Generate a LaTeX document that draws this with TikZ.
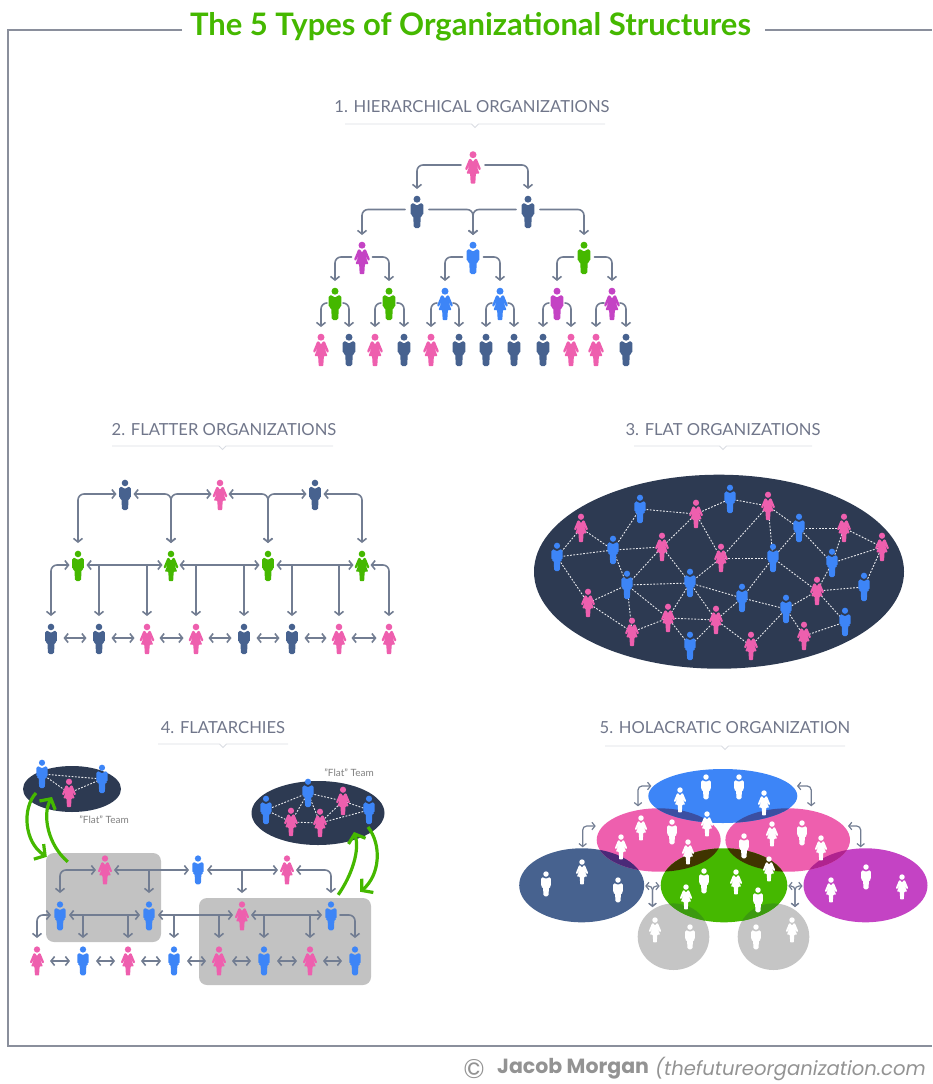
\documentclass[tikz,border=0pt]{standalone}
\usepackage{fontspec}
\setmainfont{Lato}
\newfontfamily\footfont{Poppins}
\usetikzlibrary{arrows.meta,calc,shapes.geometric}
\pgfdeclarelayer{bgl}
\pgfsetlayers{bgl,main}
\definecolor{pk}{HTML}{EE5FAE}
\definecolor{nv}{HTML}{47628F}
\definecolor{pr}{HTML}{C443C4}
\definecolor{bl}{HTML}{3D85F7}
\definecolor{gn}{HTML}{45B800}
\definecolor{ln}{HTML}{727D92}
\definecolor{dk}{HTML}{2D3A52}
\definecolor{gy}{HTML}{C2C2C2}
\definecolor{fr}{HTML}{8A8F9C}
\definecolor{ttl}{HTML}{70768A}
\definecolor{ul}{HTML}{DADDE3}
\definecolor{ovBP}{HTML}{3B4FA2}
\definecolor{ovPG}{HTML}{403400}
\definecolor{ovNP}{HTML}{4A2A78}
\definecolor{ovPU}{HTML}{B0238F}
\definecolor{ovGG}{HTML}{3C9A10}
\def\pW{24}\def\pDy{2}\def\ps{1}
\tikzset{
  pb/.style={minimum width=\pW pt,minimum height={46pt-2*\pDy pt},inner sep=0pt,outer sep=0pt},
  conn/.style={draw=ln,line width=1.6pt,rounded corners=6pt,line cap=round,>={Straight Barb[length=3.6pt,width=9pt]}},
  short/.style={shorten >=4pt,shorten <=4pt,rounded corners=0pt},
  dot/.style={draw=white!85!ln,line width=.9pt,dash pattern=on 1.8pt off 1.5pt},
  gr/.style={draw=gn,line width=3.2pt,-{Straight Barb[length=7.5pt,width=18pt]}},
  ell/.style={ellipse,inner sep=0pt,outer sep=0pt},
  sectitle/.style={font=\fontsize{16.6}{19}\selectfont,text=ttl,inner sep=0pt},
  teamlabel/.style={font=\fontsize{10}{12}\selectfont,text=gray,inner sep=0pt},
  underl/.style={draw=ul,line width=.8pt},
  frameln/.style={draw=fr,line width=1.4pt},
}
\newcommand{\Man}[4]{%
  \node[pb] (#1) at (#3,{#4-\pDy}) {};
  \fill[#2,shift={(#3,#4)},scale=\ps] (0,-12.8) circle[radius=3.5];
  \fill[#2,shift={(#3,#4)},scale=\ps,rounded corners=1.6pt]
    (-6.3,3.5)--(-6.3,-8.6)--(-2,-8.6)--(0,-5.5)--(2,-8.6)--(6.3,-8.6)--(6.3,3.5)--(3.8,3.5)--(3.2,16)--(-3.2,16)--(-3.8,3.5)--cycle;
}
\newcommand{\Wom}[4]{%
  \node[pb] (#1) at (#3,{#4-\pDy}) {};
  \fill[#2,shift={(#3,#4)},scale=\ps] (0,-12.8) circle[radius=3.5];
  \fill[#2,shift={(#3,#4)},scale=\ps,rounded corners=.7pt]
    (-2,-8.6)--(0,-5.5)--(2,-8.6)--(3.8,-8.6)--(8,1.5)--(6.3,2.8)--(3,-3)--(6.5,6)--(2.9,6)--(2.3,16)--(-2.3,16)--(-2.9,6)--(-6.5,6)--(-3,-3)--(-6.3,2.8)--(-8,1.5)--(-3.8,-8.6)--cycle;
}
\newcommand{\Under}[3]{% x1 x2 y with notch at the centre
  \draw[underl] (#1,#3) -- ({(#1+#2)/2-3.5},#3) -- ({(#1+#2)/2},#3+3.5) -- ({(#1+#2)/2+3.5},#3) -- (#2,#3);
}
\newcommand{\Over}[3]{% clip path, fill path, colour
  \begin{scope}\clip #1; \fill[#3] #2;\end{scope}
}
\begin{document}
\begin{tikzpicture}[x=1pt,y=-1pt]
\useasboundingbox (0,0) rectangle (932,1084);
% ---- frame and title
\node[inner sep=0pt,text=gn,font=\fontsize{31}{34}\selectfont\bfseries] (title) at (470.5,27) {The 5 Types of Organizational Structures};
\draw[frameln] (182,30) -- (8,30) -- (8,1046) -- (932,1046);
\draw[frameln] (765,30) -- (932,30);
\node[inner sep=0pt,text=gray!85,font=\footfont\fontsize{27}{30}\selectfont] (copyr) at (474,1069) {©};
\node[inner sep=0pt,anchor=west,text=gray!85,font=\footfont\fontsize{20.5}{24}\selectfont\bfseries] (author) at (497,1069) {Jacob Morgan};
\node[inner sep=0pt,anchor=west,text=gray!85,font=\footfont\fontsize{19.6}{24}\selectfont\itshape] (site) at (655,1069) {(thefutureorganization.com};
% ---- section titles
\node[sectitle] (t1) at (472,107) {1. HIERARCHICAL ORGANIZATIONS};
\Under{345}{605}{124}
\node[sectitle] (t2) at (224,430) {2. FLATTER ORGANIZATIONS};
\Under{112}{333}{446}
\node[sectitle] (t3) at (723,430) {3. FLAT ORGANIZATIONS};
\Under{634}{812}{446}
\node[sectitle] (t4) at (223,728) {4. FLATARCHIES};
\Under{158}{288}{744}
\node[sectitle] (t5) at (725,728) {5. HOLACRATIC ORGANIZATION};
\Under{605}{845}{746}
% ---- 1 hierarchical
\def\pW{24}\def\pDy{2.5}\def\ps{1}
\Wom{a0}{pk}{473}{167.5}
\Man{b0}{nv}{417}{212}
\Man{b1}{nv}{528}{212}
\def\pW{21}\def\pDy{1}
\Wom{c0}{pr}{362}{258}
\Man{c1}{bl}{473}{258}
\Man{c2}{gn}{584}{258}
\def\pW{16}
\Man{d0}{gn}{335}{304}
\Man{d1}{gn}{389}{304}
\Wom{d2}{bl}{445}{304}
\Wom{d3}{bl}{500}{304}
\Man{d4}{pr}{557}{304}
\Wom{d5}{pr}{612}{304}
\Wom{e0}{pk}{321}{350}
\Man{e1}{nv}{349}{350}
\Wom{e2}{pk}{375}{350}
\Man{e3}{nv}{404}{350}
\Wom{e4}{pk}{431}{350}
\Man{e5}{nv}{459}{350}
\Man{e6}{nv}{486}{350}
\Man{e7}{nv}{514}{350}
\Man{e8}{nv}{543}{350}
\Wom{e9}{pk}{571}{350}
\Wom{e10}{pk}{596}{350}
\Man{e11}{nv}{626}{350}
\foreach \p/\l/\r in {a0/b0/b1,b0/c0/c1,b1/c1/c2,c0/d0/d1,c1/d2/d3,c2/d4/d5,d0/e0/e1,d1/e2/e3,d2/e4/e5,d3/e6/e7,d4/e8/e9,d5/e10/e11}{
  \draw[conn,->] (\p.west) -| (\l.north);
  \draw[conn,->] (\p.east) -| (\r.north);
}
% ---- 2 flatter
\def\pW{17}\def\pDy{1}\def\ps{.94}
\Man{f0}{nv}{125}{495}
\Wom{f1}{pk}{220}{495}
\Man{f2}{nv}{315}{495}
\Man{g0}{gn}{78}{566}
\Wom{g1}{gn}{171}{566}
\Man{g2}{gn}{268}{566}
\Wom{g3}{gn}{362}{566}
\Man{h0}{nv}{51}{639}
\Man{h1}{nv}{99}{639}
\Wom{h2}{pk}{147}{639}
\Wom{h3}{pk}{196}{639}
\Man{h4}{nv}{244}{639}
\Man{h5}{nv}{292}{639}
\Wom{h6}{pk}{339}{639}
\Wom{h7}{pk}{389}{639}
\draw[conn,<->] (f0.west) -| (g0.north);
\draw[conn,<->] (f0.east) -| (g1.north);
\draw[conn,<->] (f1.west) -| (g1.north);
\draw[conn,<->] (f1.east) -| (g2.north);
\draw[conn,<->] (f2.west) -| (g2.north);
\draw[conn,<->] (f2.east) -| (g3.north);
\draw[conn,<->] (g0.west) -| (h0.north);
\draw[conn,<->] (g0.east) -- (g1.west);
\draw[conn,<->] (g1.east) -- (g2.west);
\draw[conn,<->] (g2.east) -- (g3.west);
\draw[conn,<->] (g3.east) -| (h7.north);
\foreach \s/\c in {g0/h1,g0/h2,g1/h3,g1/h4,g2/h5,g2/h6}{
  \draw[conn,->] (\c.north |- \s.east) -- (\c.north);
}
\foreach \a/\b in {h0/h1,h1/h2,h2/h3,h3/h4,h4/h5,h5/h6,h6/h7}{
  \draw[conn,<->,short] (\a.east) -- (\b.west);
}
% ---- 3 flat
\begin{pgfonlayer}{bgl}
\node[ell,fill=dk,minimum width=370pt,minimum height=194pt] (flatell) at (719,571.7) {};
\end{pgfonlayer}
\def\pW{10}\def\pDy{0}\def\ps{.88}
\Man{sa}{bl}{557}{557}
\Wom{sb}{pk}{581}{528}
\Man{sc}{bl}{640}{509}
\Wom{sd}{pk}{696}{514}
\Man{se}{bl}{730}{499}
\Wom{sf}{pk}{768}{506}
\Man{sg}{bl}{799}{528}
\Wom{sh}{pk}{844}{528}
\Wom{si}{pk}{882}{547}
\Man{sj}{bl}{613}{550}
\Wom{sk}{pk}{662}{547}
\Wom{sl}{pk}{721}{558}
\Man{sm}{bl}{773}{558}
\Man{sn}{bl}{832}{563}
\Man{so}{bl}{627}{585}
\Man{sp}{bl}{690}{583}
\Man{sq}{bl}{742}{598}
\Wom{sr}{pk}{817}{591}
\Man{ss}{bl}{864}{587}
\Wom{st}{pk}{588}{603}
\Wom{su}{pk}{668}{618}
\Wom{sv}{pk}{716}{620}
\Man{sw}{bl}{786}{609}
\Man{sx}{bl}{845}{622}
\Wom{sy}{pk}{632}{632}
\Man{sz}{bl}{690}{646}
\Wom{sA}{pk}{751}{646}
\Wom{sB}{pk}{804}{636}
\begin{pgfonlayer}{bgl}
\foreach \a/\b in {sa/sb,sa/sj,sa/st,sb/sj,sj/sc,sj/sk,sj/so,sc/sd,sd/se,sd/sk,sd/sl,se/sf,sf/sl,sf/sg,sf/sm,sg/sh,sg/sn,sg/sm,sh/si,sh/sn,sn/si,si/ss,sn/sr,sm/sl,sm/sr,sm/sq,sk/so,sk/sp,sl/sp,so/sp,so/st,so/su,so/sy,st/sy,sy/su,su/sp,su/sv,su/sz,sp/sv,sp/sq,sq/sv,sz/sv,sv/sA,sA/sw,sw/sq,sw/sB,sw/sr,sr/ss,sr/sx,sx/sB}{
  \draw[dot] (\a.center) -- (\b.center);
}
\end{pgfonlayer}
% ---- 4 flatarchies
\begin{pgfonlayer}{bgl}
\node[ell,fill=dk,minimum width=98pt,minimum height=46pt] (team1) at (72,789) {};
\node[ell,fill=dk,minimum width=133pt,minimum height=64pt] (team2) at (318,813) {};
\node[fill=gy,rounded corners=8pt,inner sep=0pt,minimum width=115pt,minimum height=89pt] (box1) at (103.5,897.5) {};
\node[fill=gy,rounded corners=8pt,inner sep=0pt,minimum width=172pt,minimum height=87pt] (box2) at (285,941.5) {};
\end{pgfonlayer}
\node[teamlabel] (lab1) at (104,820) {"Flat" Team};
\node[teamlabel] (lab2) at (349,773) {"Flat" Team};
\def\pW{10}\def\pDy{0}\def\ps{.88}
\Man{ua}{bl}{42}{774}
\Man{ub}{bl}{102}{779}
\Wom{uc}{pk}{69}{793}
\Man{va}{bl}{266}{810}
\Man{vb}{bl}{308}{793}
\Wom{vc}{pk}{343}{801}
\Man{vd}{bl}{369}{810}
\Wom{ve}{pk}{291}{822}
\Wom{vf}{pk}{320}{823}
\begin{pgfonlayer}{bgl}
\foreach \a/\b in {ua/ub,ua/uc,uc/ub,va/vb,vb/ve,vb/vf,vb/vc,vc/vd,va/ve,ve/vf,vf/vd,vf/vc}{
  \draw[dot] (\a.center) -- (\b.center);
}
\end{pgfonlayer}
\def\pW{18}\def\pDy{0}\def\ps{.9}
\Wom{w0}{pk}{105}{870}
\Man{w1}{bl}{198}{870}
\Wom{w2}{pk}{287}{870}
\def\pDy{1}
\Man{x0}{bl}{60}{916}
\Man{x1}{bl}{149}{916}
\Wom{x2}{pk}{242}{916}
\Man{x3}{bl}{331}{916}
\def\pDy{0}
\Wom{y0}{pk}{37}{961}
\Man{y1}{bl}{83}{961}
\Wom{y2}{pk}{128}{961}
\Man{y3}{bl}{174}{961}
\Wom{y4}{pk}{219}{961}
\Man{y5}{bl}{264}{961}
\Wom{y6}{pk}{310}{961}
\Man{y7}{bl}{355}{961}
\draw[conn,<->] (w0.west) -| (x0.north);
\draw[conn,<->] (w0.east) -- (w1.west);
\draw[conn,<->] (w1.east) -- (w2.west);
\draw[conn,<->] (w2.east) -| (x3.north);
\draw[conn,->] (x1.north |- w0.east) -- (x1.north);
\draw[conn,->] (x2.north |- w1.east) -- (x2.north);
\draw[conn,<->] (x0.west) -| (y0.north);
\draw[conn,<->] (x0.east) -- (x1.west);
\draw[conn,<->] (x1.east) -- (x2.west);
\draw[conn,<->] (x2.east) -- (x3.west);
\draw[conn,->] (x3.east) -| (y7.north);
\foreach \s/\c in {x0/y1,x0/y2,x1/y3,x1/y4,x2/y5,x2/y6}{
  \draw[conn,->] (\c.north |- \s.east) -- (\c.north);
}
\foreach \a/\b in {y0/y1,y1/y2,y2/y3,y3/y4,y4/y5,y5/y6,y6/y7}{
  \draw[conn,<->,short] (\a.east) -- (\b.west);
}
\draw[gr] ($(team1)+(-36,4)$) .. controls (22,808) and (24,842) .. ($(box1.north west)+(1,4)$);
\draw[gr] ($(box1.north west)+(22,9)$) .. controls (48,845) and (42,815) .. ($(team1)+(-20,8)$);
\draw[gr] ($(box2.north east)+(-33,-3)$) .. controls (352,875) and (360,850) .. ($(team2)+(36,19)$);
\draw[gr] ($(team2)+(50,14)$) .. controls (382,845) and (380,875) .. ($(box2.north east)+(-11,-6)$);
% ---- 5 holacratic
\def\eB{(722.8,796) ellipse [x radius=74.5,y radius=27]}
\def\ePL{(658.7,840) ellipse [x radius=62,y radius=31.7]}
\def\ePR{(787.7,840) ellipse [x radius=62.3,y radius=31.7]}
\def\eN{(581.7,885.3) ellipse [x radius=62.5,y radius=37]}
\def\eG{(724,885.3) ellipse [x radius=63.3,y radius=37]}
\def\eP{(865.5,885.3) ellipse [x radius=62,y radius=37]}
\def\eGL{(673.5,936.7) ellipse [x radius=35.8,y radius=33.3]}
\def\eGR{(773.5,936.7) ellipse [x radius=35.8,y radius=33.3]}
\node[ell,fill=gy!95!white,minimum width=71.6pt,minimum height=66.6pt] (hGL) at (673.5,936.7) {};
\node[ell,fill=gy!95!white,minimum width=71.6pt,minimum height=66.6pt] (hGR) at (773.5,936.7) {};
\node[ell,fill=nv,minimum width=125pt,minimum height=74pt] (hN) at (581.7,885.3) {};
\node[ell,fill=pr,minimum width=124pt,minimum height=74pt] (hP) at (865.5,885.3) {};
\node[ell,fill=pk,minimum width=124pt,minimum height=63.4pt] (hPL) at (658.7,840) {};
\node[ell,fill=pk,minimum width=124.6pt,minimum height=63.4pt] (hPR) at (787.7,840) {};
\node[ell,fill=gn,minimum width=126.6pt,minimum height=74pt] (hG) at (724,885.3) {};
\node[ell,fill=bl,minimum width=149pt,minimum height=54pt] (hB) at (722.8,796) {};
\Over{\eB}{\ePL}{ovBP}
\Over{\eB}{\ePR}{ovBP}
\Over{\ePL}{\eG}{ovPG}
\Over{\ePR}{\eG}{ovPG}
\Over{\eN}{\ePL}{ovNP}
\Over{\eP}{\ePR}{ovPU}
\Over{\eG}{\eGL}{ovGG}
\Over{\eG}{\eGR}{ovGG}
\def\pW{10}\def\pDy{0}\def\ps{.78}
\foreach \n/\x/\y in {q1/680/800,q2/764/803,q3/707/824,q4/621/847,q5/641/828,q6/688/852,q7/772/834,q8/821/848,q9/769/869,q10/582/872,q11/686/897,q12/736/882,q13/831/890,q14/902/887,q15/655/930,q16/792/930}{
  \Wom{\n}{white}{\x}{\y}
}
\foreach \n/\x/\y in {r1/706/787,r2/739/787,r3/672/832,r4/744/846,r5/802/833,r6/546/884,r7/618/890,r8/704/881,r9/758/900,r10/866/877,r11/690/937,r12/756/937}{
  \Man{\n}{white}{\x}{\y}
}
\tikzset{conn/.append style={line width=1.2pt,rounded corners=4pt,>={Straight Barb[length=3pt,width=7.5pt]}}}
\coordinate (k1) at ($(hPL.north)+(-20.7,-2)$);
\coordinate (k2) at ($(hPR.north)+(23.5,-2)$);
\coordinate (k3) at ($(hN.north)+(1,-1)$);
\coordinate (k4) at ($(hP.north)+(-4.8,-1)$);
\coordinate (k5) at ($(hGL.north)+(-21,3.6)$);
\coordinate (k6) at ($(hGR.north)+(21.5,3.6)$);
\draw[conn,<->] ($(hB.west)+(3,-10)$) -| (k1);
\draw[conn,<->] ($(hB.east)+(-0.3,-10)$) -| (k2);
\draw[conn,<->] ($(hPL.west)+(-1,-14)$) -| (k3);
\draw[conn,<->] ($(hPR.east)+(-2,-14)$) -| (k4);
\draw[conn,<->] ($(hN.east)+(1,.7)$) -| (k5);
\draw[conn,<->] ($(hG.west)+(-1,.7)$) -| (k5);
\draw[conn,<->] ($(hG.east)+(1,.7)$) -| (k6);
\draw[conn,<->] ($(hP.west)+(-1,.7)$) -| (k6);
\end{tikzpicture}
\end{document}
